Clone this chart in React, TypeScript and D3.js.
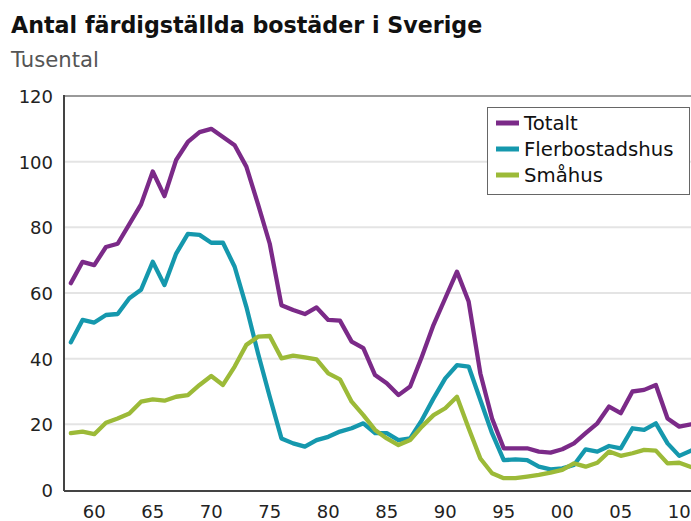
import React from "react";
import * as d3 from "d3";

const years: number[] = d3.range(1958, 2012);

const totalt: number[] = [
  63, 69.5, 68.5, 74, 75, 81, 87, 97, 89.5, 100.5, 106, 109, 110,
  107.5, 105, 98.5, 87, 75, 56.3, 54.8, 53.6, 55.6, 51.8, 51.6, 45.2, 43.2,
  35, 32.5, 28.9, 31.5, 40.6, 50.3, 58.4, 66.5, 57.4, 35.5, 21.8, 12.7, 12.7,
  12.7, 11.7, 11.4, 12.4, 14.2, 17.3, 20.3, 25.4, 23.4, 30, 30.5, 32, 21.8, 19.3, 20,
];

const flerbostadshus: number[] = [
  45, 51.8, 51, 53.3, 53.6, 58.4, 61, 69.5, 62.4, 72, 78, 77.7, 75.3,
  75.3, 68, 55.8, 41.6, 28.4, 15.7, 14.2, 13.2, 15.2, 16.2, 17.8, 18.8, 20.3,
  17.3, 17.3, 15.2, 15.7, 21.3, 27.9, 34, 38, 37.6, 27.4, 17.3, 9.1, 9.3,
  9.1, 7.1, 6.3, 6.6, 7.6, 12.4, 11.7, 13.4, 12.7, 18.8, 18.3, 20.3, 14.2, 10.4, 12,
];

const smahus: number[] = [
  17.3, 17.8, 17, 20.5, 21.8, 23.3, 26.9, 27.6, 27.2, 28.4, 28.9, 32, 34.7,
  32, 37.6, 44.2, 46.7, 46.9, 40.1, 40.9, 40.4, 39.8, 35.5, 33.7, 26.9, 22.8,
  18.3, 15.7, 13.7, 15.2, 19.3, 22.8, 24.9, 28.4, 18.8, 9.6, 5.1, 3.6, 3.6,
  4.1, 4.6, 5.3, 6.1, 8.1, 7.1, 8.3, 11.7, 10.4, 11.2, 12.2, 12, 8.1, 8.3, 7,
];

const seriesNames: string[] = ["Totalt", "Flerbostadshus", "Småhus"];
const seriesColors: string[] = ["#7b2a88", "#1598ad", "#9cba38"];
const seriesData: number[][] = [totalt, flerbostadshus, smahus];

const yTicks: number[] = [0, 20, 40, 60, 80, 100, 120];
const xTickYears: number[] = [1960, 1965, 1970, 1975, 1980, 1985, 1990, 1995, 2000, 2005, 2010];
const xTickLabels: string[] = ["60", "65", "70", "75", "80", "85", "90", "95", "00", "05", "10"];

const W = 691;
const H = 521;
const FONT = "'DejaVu Sans', Verdana, sans-serif";

export default function App() {
  const x = d3.scaleLinear().domain([1957.5, 2012.5]).range([65, 65 + 55 * 11.7]);
  const y = d3.scaleLinear().domain([0, 120]).range([490, 96]);
  const line = d3
    .line<number>()
    .x((_, i) => x(years[i]))
    .y((d) => y(d))
    .curve(d3.curveLinear);

  const plotLeft = x(1957.5);
  const plotRight = x(2012.5);

  return (
    <svg
      width={W}
      height={H}
      style={{ position: "absolute", left: 0, top: 0, display: "block", background: "#fff" }}
    >
      <defs>
        <clipPath id="plotclip">
          <rect x={plotLeft} y={y(120)} width={plotRight - plotLeft} height={y(0) - y(120)} />
        </clipPath>
      </defs>
      <text x={11} y={33} fontFamily={FONT} fontWeight="bold" fontSize={22.2} fill="#111">
        Antal färdigställda bostäder i Sverige
      </text>
      <text x={11} y={67} fontFamily={FONT} fontSize={21.2} fill="#555">
        Tusental
      </text>

      {yTicks.slice(1, -1).map((t) => (
        <line key={t} x1={plotLeft} x2={plotRight} y1={y(t)} y2={y(t)} stroke="#e4e4e4" strokeWidth={2} />
      ))}
      <line x1={plotLeft} x2={plotRight} y1={y(120)} y2={y(120)} stroke="#999" strokeWidth={2} />

      <g clipPath="url(#plotclip)">
        {seriesData.map((d, i) => (
          <path
            key={seriesNames[i]}
            d={line(d) || ""}
            fill="none"
            stroke={seriesColors[i]}
            strokeWidth={4.3}
            strokeLinejoin="round"
            strokeLinecap="round"
          />
        ))}
      </g>

      <line x1={plotLeft - 1} x2={plotLeft - 1} y1={y(120) - 1} y2={y(0) + 1} stroke="#444" strokeWidth={2} />
      <line x1={plotLeft - 1} x2={plotRight} y1={y(0) + 1} y2={y(0) + 1} stroke="#444" strokeWidth={2} />

      {yTicks.map((t) => (
        <text key={t} x={53} y={y(t) + 7} textAnchor="end" fontFamily={FONT} fontSize={18} fill="#222">
          {t}
        </text>
      ))}
      {xTickYears.map((yr, i) => (
        <text key={yr} x={x(yr)} y={518} textAnchor="middle" fontFamily={FONT} fontSize={18} fill="#222">
          {xTickLabels[i]}
        </text>
      ))}

      <rect x={487.5} y={107.5} width={202} height={87} fill="#fff" stroke="#666" strokeWidth={1} />
      {seriesNames.map((n, i) => (
        <g key={n} transform={`translate(0, ${123 + i * 26})`}>
          <line x1={496} x2={519} y1={0} y2={0} stroke={seriesColors[i]} strokeWidth={5} />
          <text x={524} y={6.5} fontFamily={FONT} fontSize={19.7} fill="#111">
            {n}
          </text>
        </g>
      ))}
    </svg>
  );
}
